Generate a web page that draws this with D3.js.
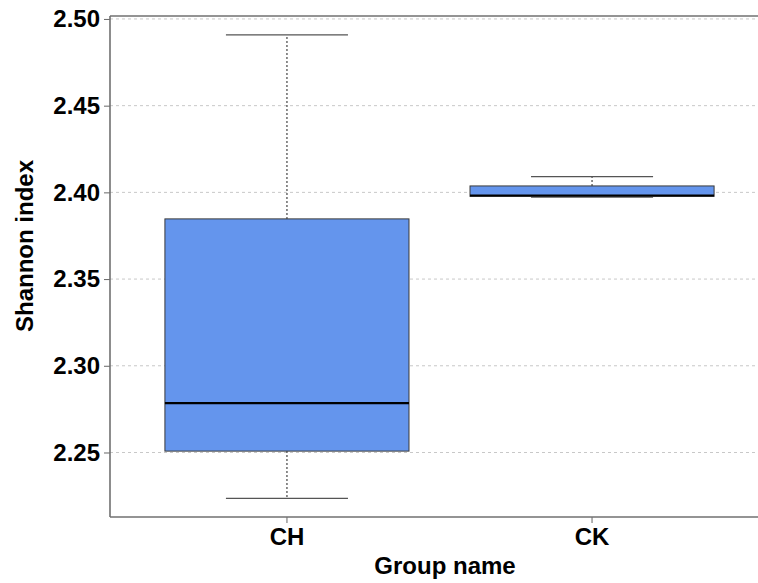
<!DOCTYPE html>
<html>
<head>
<meta charset="utf-8">
<script src="https://cdn.jsdelivr.net/npm/d3@7"></script>
<style>
  html, body { margin: 0; padding: 0; background: #fff; }
  svg { display: block; font-family: "Liberation Sans", Arial, sans-serif; }
</style>
</head>
<body>
<svg id="chart" width="758" height="583"></svg>
<script>
// ---- data ----
const groups = ["CH", "CK"];
const whiskerLow  = [2.2235, 2.3973];
const q1          = [2.2508, 2.3977];
const median      = [2.2785, 2.3982];
const q3          = [2.3847, 2.4037];
const whiskerHigh = [2.4908, 2.4091];
const yTicks = [2.25, 2.30, 2.35, 2.40, 2.45, 2.50];
const yDomain = [2.2128, 2.5017];

// ---- layout ----
const svg = d3.select("#chart");
const plotLeft = 110, plotRight = 769, plotTop = 16, plotBottom = 517, visRight = 758;

const x = d3.scaleBand().domain(groups).range([plotLeft, plotRight])
  .paddingInner(0.2).paddingOuter(0.18);
const y = d3.scaleLinear().domain(yDomain).range([plotBottom, plotTop]);

// grid
svg.append("g").selectAll("line").data(yTicks).join("line")
  .attr("x1", plotLeft).attr("x2", visRight)
  .attr("y1", d => y(d)).attr("y2", d => y(d))
  .attr("stroke", "#c8c8c8").attr("stroke-width", 1)
  .attr("stroke-dasharray", "3,3");

// boxes
const data = groups.map((g, i) => ({
  g, lo: whiskerLow[i], q1: q1[i], med: median[i], q3: q3[i], hi: whiskerHigh[i]
}));
const bw = x.bandwidth();
const gBox = svg.append("g").selectAll("g").data(data).join("g");

// whisker stems
gBox.append("line")
  .attr("x1", d => x(d.g) + bw / 2).attr("x2", d => x(d.g) + bw / 2)
  .attr("y1", d => y(d.q3)).attr("y2", d => y(d.hi))
  .attr("stroke", "#444").attr("stroke-width", 1.2).attr("stroke-dasharray", "2,2");
gBox.append("line")
  .attr("x1", d => x(d.g) + bw / 2).attr("x2", d => x(d.g) + bw / 2)
  .attr("y1", d => y(d.q1)).attr("y2", d => y(d.lo))
  .attr("stroke", "#444").attr("stroke-width", 1.2).attr("stroke-dasharray", "2,2");
// caps
gBox.append("line")
  .attr("x1", d => x(d.g) + bw / 4).attr("x2", d => x(d.g) + 3 * bw / 4)
  .attr("y1", d => y(d.hi)).attr("y2", d => y(d.hi))
  .attr("stroke", "#555").attr("stroke-width", 1.3);
gBox.append("line")
  .attr("x1", d => x(d.g) + bw / 4).attr("x2", d => x(d.g) + 3 * bw / 4)
  .attr("y1", d => y(d.lo)).attr("y2", d => y(d.lo))
  .attr("stroke", "#555").attr("stroke-width", 1.3);
// box
gBox.append("rect")
  .attr("x", d => x(d.g)).attr("width", bw)
  .attr("y", d => y(d.q3)).attr("height", d => y(d.q1) - y(d.q3))
  .attr("fill", "#6495ED").attr("stroke", "#3a3a3a").attr("stroke-width", 1);
// median
gBox.append("line")
  .attr("x1", d => x(d.g)).attr("x2", d => x(d.g) + bw)
  .attr("y1", d => y(d.med)).attr("y2", d => y(d.med))
  .attr("stroke", "#000").attr("stroke-width", 2.2);

// axes
const yAxis = svg.append("g").attr("transform", `translate(${plotLeft},0)`)
  .call(d3.axisLeft(y).tickValues(yTicks).tickFormat(d3.format(".2f"))
    .tickSize(6).tickSizeOuter(0).tickPadding(4));
const xAxis = svg.append("g").attr("transform", `translate(0,${plotBottom})`)
  .call(d3.axisBottom(x).tickSize(6).tickSizeOuter(0).tickPadding(5));
[yAxis, xAxis].forEach(a => {
  a.select(".domain").remove();
  a.selectAll(".tick line").attr("stroke", "#666").attr("stroke-width", 1);
  a.selectAll(".tick text").attr("fill", "#000")
    .style("font-size", "24px").style("font-weight", "bold")
    .style("font-family", "'Liberation Sans', Arial, sans-serif");
});

// frame lines (left, bottom, top)
svg.append("line").attr("x1", plotLeft).attr("x2", plotLeft).attr("y1", plotTop).attr("y2", plotBottom)
  .attr("stroke", "#707070").attr("stroke-width", 1.6);
svg.append("line").attr("x1", plotLeft).attr("x2", visRight).attr("y1", plotBottom).attr("y2", plotBottom)
  .attr("stroke", "#707070").attr("stroke-width", 1.6);
svg.append("line").attr("x1", plotLeft).attr("x2", visRight).attr("y1", plotTop).attr("y2", plotTop)
  .attr("stroke", "#707070").attr("stroke-width", 1.6);

// axis titles
svg.append("text").attr("x", 445).attr("y", 574).attr("text-anchor", "middle")
  .style("font-size", "24px").style("font-weight", "bold").text("Group name");
svg.append("text").attr("transform", "translate(33,246) rotate(-90)")
  .attr("text-anchor", "middle")
  .style("font-size", "24px").style("font-weight", "bold").text("Shannon index");
</script>
</body>
</html>
